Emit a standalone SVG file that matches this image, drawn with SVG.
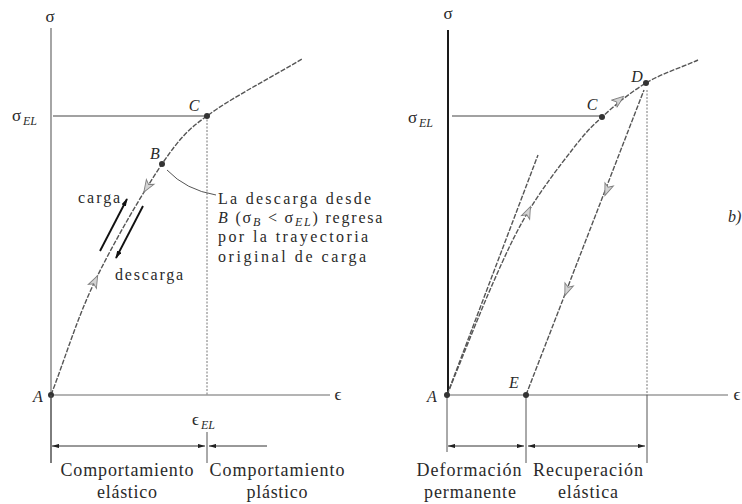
<svg xmlns="http://www.w3.org/2000/svg" width="742" height="504" viewBox="0 0 742 504">
<style>
text{font-family:"Liberation Serif","DejaVu Serif",serif;fill:#2a2a2a}
.lbl{font-size:16px;font-style:italic}
.sym{font-size:17px}
.sub{font-size:12px;font-style:italic}
.ann{font-size:16px;letter-spacing:1.8px}
.bot{font-size:18px}
.axis{stroke:#6a6a6a;stroke-width:1.2;fill:none}
.axisb{stroke:#1a1a1a;stroke-width:2;fill:none}
.guide{stroke:#444;stroke-width:1.1;fill:none}
.dot-guide{stroke:#777;stroke-width:1;stroke-dasharray:2 1.5;fill:none}
.curve{stroke:#555;stroke-width:1.4;stroke-dasharray:5 1.5;fill:none}
.dim{stroke:#333;stroke-width:1;fill:none}
.tick{stroke:#555;stroke-width:1;fill:none}
.blk{stroke:#111;stroke-width:1.9;fill:none}
.pt{fill:#333}
</style>
<defs>
<marker id="dimA" viewBox="0 0 10 6" refX="10" refY="3" markerWidth="7" markerHeight="4.2" markerUnits="userSpaceOnUse" orient="auto-start-reverse">
<path d="M0,0 L10,3 L0,6 Z" fill="#222"/>
</marker>
<marker id="blkA" viewBox="0 0 10 6" refX="9" refY="3" markerWidth="8" markerHeight="5" markerUnits="userSpaceOnUse" orient="auto">
<path d="M0,0 L10,3 L0,6 Z" fill="#111"/>
</marker>
<path id="ha" d="M6,0 L-6,-4.5 L-3,0 L-6,4.5 Z" fill="#d4d4d4" stroke="#808080" stroke-width="0.9"/>
</defs>

<!-- ===== Panel a ===== -->
<g id="axes-a">
<line class="axis" x1="51" y1="28" x2="51" y2="463"/>
<line class="axis" x1="51" y1="395" x2="330" y2="395"/>
<text class="sym" x="50" y="22" text-anchor="middle">σ</text>
<text class="sym" x="338" y="400" text-anchor="middle">ϵ</text>
<text class="sym" x="12" y="121">σ</text><text class="sub" x="23" y="125">EL</text>
<text class="sym" x="192" y="425">ϵ</text><text class="sub" x="201" y="429">EL</text>
</g>
<g id="guides-a">
<line class="guide" x1="53" y1="116" x2="207" y2="116"/>
<line class="dot-guide" x1="207" y1="116" x2="207" y2="395"/>
<line class="tick" x1="207" y1="432" x2="207" y2="463"/>
</g>
<g id="curve-a">
<path class="curve" d="M51,395 C65.7,357 76.5,319.5 95,281 C113.5,242.5 143.3,191.5 162,164 C180.7,136.5 190,128 207,116 C230.3,98.5 270.3,78 302,59"/>
<use href="#ha" transform="translate(147,187) rotate(122)"/>
<use href="#ha" transform="translate(95,281) rotate(-64)"/>
</g>
<g id="node-A1"><circle class="pt" cx="51" cy="395" r="3"/><text class="lbl" x="38" y="402" text-anchor="middle">A</text></g>
<g id="node-B"><circle class="pt" cx="162" cy="164" r="3"/><text class="lbl" x="155" y="159" text-anchor="middle">B</text></g>
<g id="node-C1"><circle class="pt" cx="207" cy="116" r="3"/><text class="lbl" x="194" y="111" text-anchor="middle">C</text></g>
<g id="carga-descarga">
<line class="blk" x1="100" y1="251" x2="127" y2="199" marker-end="url(#blkA)"/>
<line class="blk" x1="143" y1="206" x2="116" y2="258" marker-end="url(#blkA)"/>
<text class="ann" x="78" y="203" textLength="44">carga</text>
<text class="ann" x="115" y="280" textLength="70">descarga</text>
</g>
<g id="note-B">
<path class="tick" d="M167,170 Q186,190 216,195"/>
<text class="ann" x="218" y="204" textLength="155">La descarga desde</text>
<text class="ann" x="218" y="223" letter-spacing="1.3"><tspan font-style="italic">B</tspan> (σ<tspan class="sub" font-style="normal" dy="3">B</tspan><tspan dy="-3"> &lt; σ</tspan><tspan class="sub" dy="3">EL</tspan><tspan dy="-3">) regresa</tspan></text>
<text class="ann" x="218" y="242" textLength="152">por la trayectoria</text>
<text class="ann" x="218" y="262" textLength="150">original de carga</text>
</g>
<g id="dims-a">
<line class="tick" x1="51" y1="395" x2="51" y2="463"/>
<line class="dim" x1="52" y1="446" x2="205" y2="446" marker-start="url(#dimA)" marker-end="url(#dimA)"/>
<line class="dim" x1="209" y1="446" x2="267" y2="446" marker-start="url(#dimA)"/>
<text class="bot" x="127" y="476" text-anchor="middle" textLength="133">Comportamiento</text>
<text class="bot" x="127" y="498" text-anchor="middle" textLength="60">elástico</text>
<text class="bot" x="277" y="476" text-anchor="middle" textLength="135">Comportamiento</text>
<text class="bot" x="277" y="498" text-anchor="middle" textLength="61">plástico</text>
</g>

<!-- ===== Panel b ===== -->
<g id="axes-b">
<line class="axisb" x1="448" y1="30" x2="448" y2="395"/>
<line class="tick" x1="447" y1="395" x2="447" y2="452"/>
<line class="axis" x1="447" y1="395" x2="728" y2="395"/>
<text class="sym" x="448" y="19" text-anchor="middle">σ</text>
<text class="sym" x="737" y="400" text-anchor="middle">ϵ</text>
<text class="sym" x="408" y="123">σ</text><text class="sub" x="419" y="127">EL</text>
<text class="lbl" x="728" y="222">b)</text>
</g>
<g id="guides-b">
<line class="guide" x1="452" y1="116" x2="602" y2="116"/>
<line class="dot-guide" x1="647" y1="90" x2="647" y2="395"/>
<line class="tick" x1="647" y1="395" x2="647" y2="463"/>
<line class="tick" x1="526" y1="395" x2="526" y2="463" stroke="#aaa"/>
</g>
<g id="connectors-b">
<line class="curve" x1="447" y1="395" x2="538" y2="155"/>
<path class="curve" d="M447,395 C462.3,357.7 479.5,313.5 493,283 C506.5,252.5 514.8,234.2 528,212 C541.2,189.8 559.7,165.8 572,150 C584.3,134.2 589.7,128.2 602,117 C614.3,105.8 630,92.5 646,83 C662,73.5 680.7,67.7 698,60"/>
<line class="curve" x1="526" y1="395" x2="644" y2="90"/>
<use href="#ha" transform="translate(528,212) rotate(-66)"/>
<use href="#ha" transform="translate(619,100) rotate(-38)"/>
<use href="#ha" transform="translate(607,190) rotate(111)"/>
<use href="#ha" transform="translate(567,290) rotate(111)"/>
</g>
<g id="node-A2"><circle class="pt" cx="447" cy="395" r="3"/><text class="lbl" x="432" y="402" text-anchor="middle">A</text></g>
<g id="node-E"><circle class="pt" cx="526" cy="395" r="3"/><text class="lbl" x="514" y="388" text-anchor="middle">E</text></g>
<g id="node-C2"><circle class="pt" cx="602" cy="117" r="3"/><text class="lbl" x="592" y="110" text-anchor="middle">C</text></g>
<g id="node-D"><circle class="pt" cx="646" cy="83" r="3"/><text class="lbl" x="637" y="82" text-anchor="middle">D</text></g>
<g id="dims-b">
<line class="dim" x1="448" y1="446" x2="524" y2="446" marker-start="url(#dimA)" marker-end="url(#dimA)"/>
<line class="dim" x1="528" y1="446" x2="645" y2="446" marker-start="url(#dimA)" marker-end="url(#dimA)"/>
<text class="bot" x="469" y="476" text-anchor="middle" textLength="105">Deformación</text>
<text class="bot" x="470" y="498" text-anchor="middle" textLength="92">permanente</text>
<text class="bot" x="588" y="476" text-anchor="middle" textLength="110">Recuperación</text>
<text class="bot" x="588" y="498" text-anchor="middle" textLength="60">elástica</text>
</g>
</svg>
